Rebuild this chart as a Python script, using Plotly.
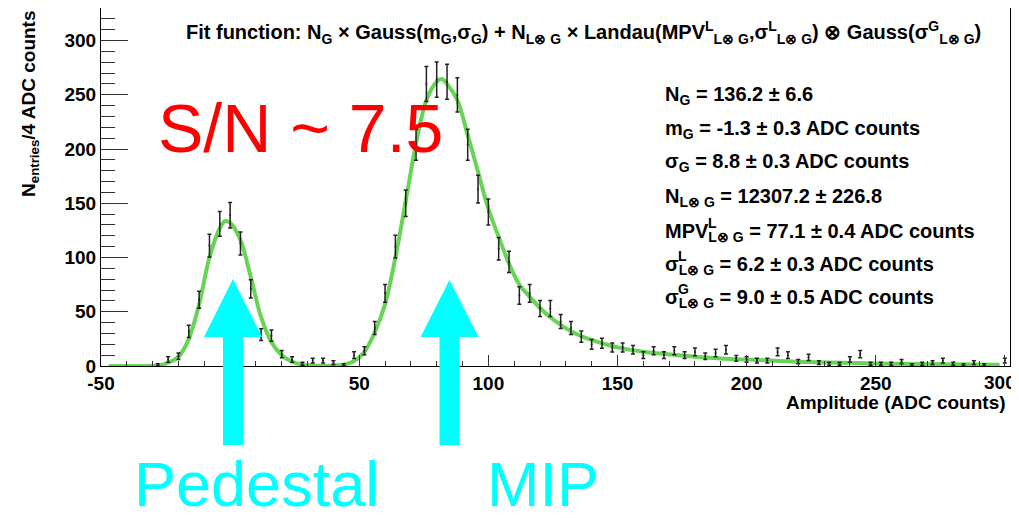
import plotly.graph_objects as go
import numpy as np

# ---------------- data ----------------
bin_centers = [-28, -24, -20, -16, -12, -8, -4, 0, 4, 8, 12, 16, 20, 24, 28, 32, 36, 40, 44,
               48, 52, 56, 60, 64, 68, 72, 76, 80, 84, 88, 92, 96, 100, 104, 108, 112, 116,
               120, 124, 128, 132, 136, 140, 144, 148, 152, 156, 160, 164, 168, 172, 176, 180,
               184, 188, 192, 196, 200, 204, 208, 212, 216, 220, 224, 228, 232, 236, 240, 244,
               248, 252, 256, 260, 264, 268, 272, 276, 280, 284, 288, 292, 296, 300]
counts = [1, 6, 9, 32, 61, 111, 131, 139, 113, 71, 29, 28, 11, 6, 2, 5, 5, 3, 1,
          10, 14, 35, 67, 110, 150, 204, 260, 264, 262, 250, 204, 163, 142, 108, 96, 65, 67,
          53, 53, 41, 35, 27, 20, 21, 17, 17, 15, 10, 14, 10, 14, 10, 13,
          9, 12, 15, 7, 6, 5, 5, 13, 10, 4, 8, 3, 2, 2, 6, 11,
          2, 2, 2, 4, 1, 2, 3, 5, 2, 1, 3, 1, None, 5]

fit_x = [-47, -40, -32, -28, -24, -20, -16, -12, -8, -4, -2, 0, 4, 8, 12, 16, 20, 24, 28,
         32, 36, 40, 44, 48, 52, 56, 60, 64, 68, 72, 76, 80, 82, 84, 88, 92, 96, 100, 104,
         108, 112, 116, 120, 124, 128, 132, 136, 140, 144, 150, 160, 170, 180, 190, 200,
         225, 250, 275, 298]
fit_y = [0, 0, 0.1, 0.5, 3, 8.5, 25, 57, 100, 127, 133.5, 132, 116, 82, 45, 22, 10, 4, 1.2,
         0.5, 0.3, 0.5, 1.2, 4.5, 13, 31, 57, 100, 152, 205, 245, 262, 264.5, 260, 245, 213,
         179, 145, 119, 94.5, 75, 64, 53.5, 45, 38, 32, 27.5, 24, 21, 17.2, 13.2, 10.7, 8.5,
         7, 6, 3.6, 2.4, 1.6, 1.1]

x_tick_vals = [-50, 0, 50, 100, 150, 200, 250, 300]
x_tick_text = ["-50", "0", "50", "100", "150", "200", "250", "300"]

fit_title = ("Fit function: N<sub>G</sub> × Gauss(m<sub>G</sub>,σ<sub>G</sub>) + "
             "N<sub>L⊗ G</sub> × Landau(MPV<sup>L</sup><sub>L⊗ G</sub>,σ<sup>L</sup><sub>L⊗ G</sub>)"
             " ⊗ Gauss(σ<sup>G</sup><sub>L⊗ G</sub>)")
# main text of each parameter line, and its (optional) stacked superscript
param_lines = ["N<sub>G</sub> = 136.2 ± 6.6",
               "m<sub>G</sub> = -1.3 ± 0.3 ADC counts",
               "σ<sub>G</sub> = 8.8 ± 0.3 ADC counts",
               "N<sub>L⊗ G</sub> = 12307.2 ± 226.8",
               "MPV<sub>L⊗ G</sub> = 77.1 ± 0.4 ADC counts",
               "σ<sub>L⊗ G</sub> = 6.2 ± 0.3 ADC counts",
               "σ<sub>L⊗ G</sub> = 9.0 ± 0.5 ADC counts"]
param_sups = [None, None, None, None, "L", "L", "G"]

# ---------------- layout geometry ----------------
# the page body adds an 8 px margin, so the figure is 8 px smaller and all
# reference-pixel positions are shifted by OFF
OFF = 8
W, H = 1019 - OFF, 518 - OFF
L = 101 - OFF
T = 8 - OFF
R = W - (1010 - OFF)
B = H - (366 - OFF)
PW, PH = W - L - R, H - T - B


def px(x):
    return (x - OFF - L) / PW


def py(y):
    return (H - B - (y - OFF)) / PH


FONT = "Liberation Sans"
errs = [np.sqrt(c) if c is not None else None for c in counts]

fig = go.Figure()
fig.add_trace(go.Scatter(x=fit_x, y=fit_y, mode="lines", line_shape="spline",
                         line=dict(color="rgb(104,212,86)", width=4), hoverinfo="skip"))
fig.add_trace(go.Scatter(x=bin_centers, y=counts, mode="markers",
                         marker=dict(size=2, color="#222"),
                         error_y=dict(type="data", array=errs, thickness=1.5, width=2,
                                      color="#222")))

tick_font = dict(family=FONT, size=19, color="black", weight="bold")
axis_common = dict(showline=True, linecolor="black", linewidth=1, mirror=True,
                   showgrid=False, zeroline=False, ticks="inside", tickcolor="#333",
                   tickwidth=1.2, automargin=False, ticklabeloverflow="allow",
                   tickfont=tick_font)
# the last label (300) would be clipped at the page edge, so it is drawn as an annotation
fig.update_xaxes(range=[-50, 302], tickmode="array", tickvals=x_tick_vals,
                 ticktext=x_tick_text[:-1] + [""], ticklen=11,
                 minor=dict(tickmode="linear", dtick=10, tick0=0, ticklen=5, ticks="inside",
                            tickcolor="#333"),
                 **axis_common)
fig.update_yaxes(range=[0, 330], tick0=0, dtick=50, ticklen=27,
                 minor=dict(dtick=10, tick0=0, ticklen=14, ticks="inside", tickcolor="#333"),
                 **axis_common)

ann = []
ann.append(dict(text=x_tick_text[-1], x=px(1000), y=py(382), xanchor="center",
                yanchor="middle", font=tick_font))
ann.append(dict(text="<b>Amplitude (ADC counts)</b>", x=px(1008), y=py(402), xanchor="right",
                yanchor="middle", font=dict(family=FONT, size=19, color="black")))
ann.append(dict(text="<b>N<sub>entries</sub>/4 ADC counts</b>", x=px(30), y=py(104),
                textangle=-90, xanchor="center", yanchor="middle",
                font=dict(family=FONT, size=19, color="black")))
ann.append(dict(text="<b>" + fit_title + "</b>", x=px(583), y=py(32), xanchor="center",
                yanchor="middle", font=dict(family=FONT, size=20, color="black")))
line_y = [95, 129, 163, 197, 232, 265, 298]
sup_x = {"MPV": 706, "σ": 676}
for t, s, yy in zip(param_lines, param_sups, line_y):
    ann.append(dict(text="<b>" + t + "</b>", x=px(663), y=py(yy), xanchor="left",
                    yanchor="middle", font=dict(family=FONT, size=20, color="black")))
    if s is not None:
        xs = sup_x["MPV"] if t.startswith("MPV") else sup_x["σ"]
        ann.append(dict(text="<b>" + s + "</b>", x=px(xs), y=py(yy - 9), xanchor="left",
                        yanchor="middle", font=dict(family=FONT, size=14, color="black")))
ann.append(dict(text="S/N ~ 7.5", x=px(300), y=py(128), xanchor="center", yanchor="middle",
                font=dict(family=FONT, size=68, color="#ff0000")))
ann.append(dict(text="Pedestal", x=px(256), y=py(484), xanchor="center", yanchor="middle",
                font=dict(family=FONT, size=63, color="#00ffff")))
ann.append(dict(text="MIP", x=px(543), y=py(484), xanchor="center", yanchor="middle",
                font=dict(family=FONT, size=63, color="#00ffff")))
for a in ann:
    a.update(xref="paper", yref="paper", showarrow=False)


def arrow_path(cx, tip, base, bottom, head_half, shaft_half):
    pts = [(cx, tip), (cx + head_half, base), (cx + shaft_half, base), (cx + shaft_half, bottom),
           (cx - shaft_half, bottom), (cx - shaft_half, base), (cx - head_half, base)]
    return "M " + " L ".join(f"{px(a):.5f},{py(b):.5f}" for a, b in pts) + " Z"


shapes = [dict(type="path", path=arrow_path(233, 279, 337, 445, 29, 10), xref="paper",
               yref="paper", fillcolor="#00ffff", line=dict(width=0), layer="above"),
          dict(type="path", path=arrow_path(449.5, 280, 337, 445, 29, 10), xref="paper",
               yref="paper", fillcolor="#00ffff", line=dict(width=0), layer="above")]

fig.update_layout(width=W, height=H, margin=dict(l=L, r=R, t=T, b=B),
                  paper_bgcolor="white", plot_bgcolor="white", showlegend=False,
                  annotations=ann, shapes=shapes)
fig.write_html("out.html")
